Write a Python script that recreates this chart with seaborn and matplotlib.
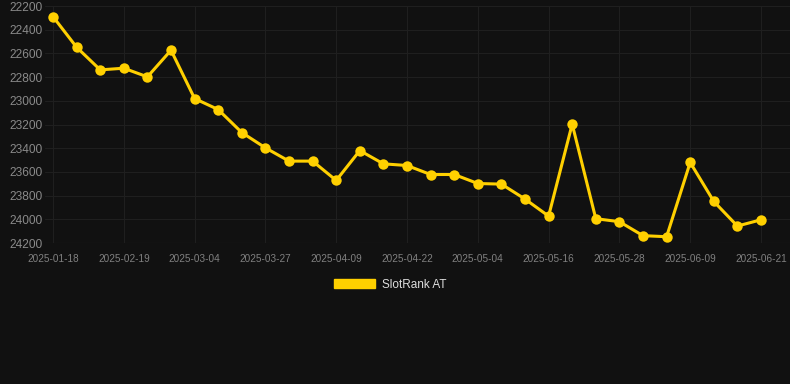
import pandas as pd
import matplotlib.pyplot as plt
import seaborn as sns
from matplotlib.patches import Patch

# rank per date (lower number = drawn higher, axis is inverted)
dates = ['2025-01-18', '2025-01-29', '2025-02-08', '2025-02-19', '2025-02-23', '2025-02-28',
         '2025-03-04', '2025-03-12', '2025-03-19', '2025-03-27', '2025-03-31', '2025-04-05',
         '2025-04-09', '2025-04-13', '2025-04-18', '2025-04-22', '2025-04-26', '2025-04-30',
         '2025-05-04', '2025-05-08', '2025-05-12', '2025-05-16', '2025-05-20', '2025-05-24',
         '2025-05-28', '2025-06-01', '2025-06-05', '2025-06-09', '2025-06-13', '2025-06-17',
         '2025-06-21']
ranks = [22290, 22548, 22739, 22725, 22798, 22573, 22981, 23074, 23268, 23397,
         23509, 23509, 23672, 23420, 23532, 23546, 23622, 23622, 23698, 23703,
         23829, 23973, 23197, 23995, 24020, 24138, 24147, 23520, 23849, 24057,
         24004]
y_ticks = [22200, 22400, 22600, 22800, 23000, 23200, 23400, 23600, 23800, 24000, 24200]
series_name = 'SlotRank AT'

bg = '#111111'
yellow = '#ffd000'
grid_col = '#1f1f1f'

df = pd.DataFrame({'pos': range(len(dates)), 'date': dates, 'rank': ranks})

sns.set_style('dark')
plt.rcParams['font.family'] = ['Liberation Sans', 'DejaVu Sans']

fig = plt.figure(figsize=(7.9, 3.84), dpi=100, facecolor=bg)
ax = fig.add_axes([45 / 790, 141 / 384, 745 / 790, 237 / 384])
ax.set_facecolor(bg)

sns.lineplot(data=df, x='pos', y='rank', ax=ax, color=yellow, linewidth=2.2,
             marker='o', markersize=7.5, markeredgewidth=0, legend=False)

ax.set_ylim(24200, 22200)
ax.set_yticks(y_ticks)
ax.set_xlim(-0.34, 31.23)
ax.set_xticks(df['pos'][::3])
ax.set_xticklabels(df['date'][::3])

ax.grid(True, color=grid_col, linewidth=0.8)
ax.axhline(24200, color='#2a2a2a', linewidth=0.8, zorder=0)
ax.set_axisbelow(True)
for s in ax.spines.values():
    s.set_visible(False)

ax.tick_params(axis='y', length=0, pad=2, labelsize=8.6, labelcolor='#8a8a8a')
ax.tick_params(axis='x', length=5, color=grid_col, pad=3, labelsize=7.2, labelcolor='#808080')
ax.set_xlabel('')
ax.set_ylabel('')

handle = Patch(facecolor=yellow, edgecolor=yellow)
fig.legend([handle], [series_name], loc='center', bbox_to_anchor=(0.494, 99 / 384),
           frameon=False, fontsize=8.5, labelcolor='#dddddd',
           handlelength=3.4, handleheight=0.8, handletextpad=0.6)

fig.savefig('out.png', dpi=100, facecolor=bg)
